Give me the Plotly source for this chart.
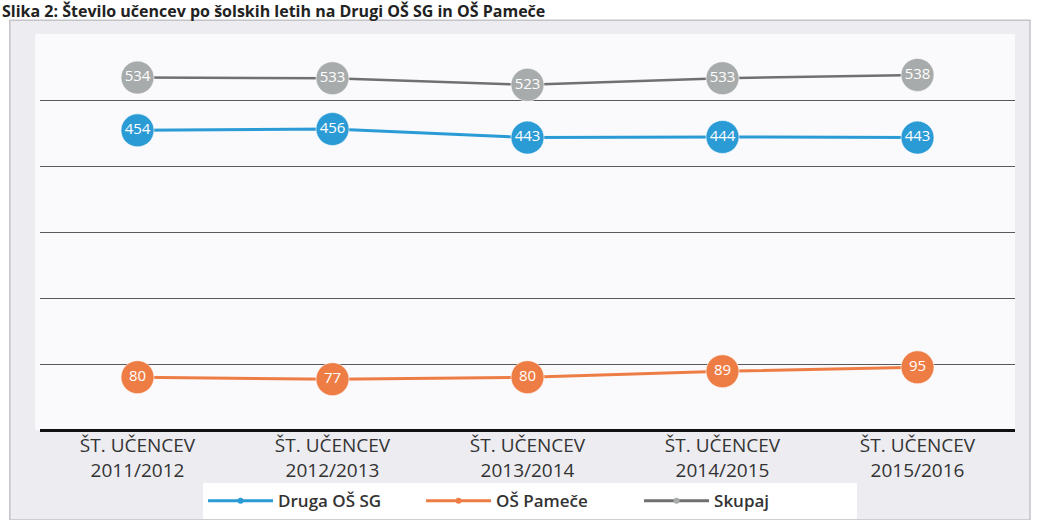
import plotly.graph_objects as go

categories = ["ŠT. UČENCEV<br>2011/2012", "ŠT. UČENCEV<br>2012/2013", "ŠT. UČENCEV<br>2013/2014",
              "ŠT. UČENCEV<br>2014/2015", "ŠT. UČENCEV<br>2015/2016"]
druga = [454, 456, 443, 444, 443]
pamece = [80, 77, 80, 89, 95]
skupaj = [534, 533, 523, 533, 538]
names = ["Druga OŠ SG", "OŠ Pameče", "Skupaj"]
title_text = "Slika 2: Število učencev po šolskih letih na Drugi OŠ SG in OŠ Pameče"

fig = go.Figure()
series = [(druga, names[0], "#2b9bd6", "#2b9bd6", 3),
          (pamece, names[1], "#ee7d45", "#ee7d45", 3),
          (skupaj, names[2], "#707070", "#a8abab", 2.5)]
for vals, name, lc, mc, lw in series:
    fig.add_trace(go.Scatter(
        x=categories, y=vals, name=name, mode="lines+markers+text", showlegend=False,
        text=[str(v) for v in vals], textposition="middle center",
        textfont=dict(color="white", size=15, family="Open Sans"),
        line=dict(color=lc, width=lw),
        marker=dict(color=mc, size=33, line=dict(color="rgba(255,255,255,0.6)", width=1)),
    ))
for vals, name, lc, mc, lw in series:
    fig.add_trace(go.Scatter(
        x=[None], y=[None], name=name, mode="lines+markers",
        line=dict(color=lc, width=3), marker=dict(color=mc, size=6),
    ))

fig.add_shape(type="rect", xref="paper", yref="paper", x0=-0.031, x1=1.0154, y0=-0.227, y1=1.035,
              fillcolor="#ececf1", line=dict(color="#c4c4c8", width=1.5), layer="below")
fig.add_shape(type="rect", xref="paper", yref="paper", x0=-0.005, x1=1.0, y0=0, y1=1.0,
              fillcolor="#fafafc", line=dict(width=0), layer="below")

fig.add_annotation(text="<b>" + title_text + "</b>", xref="paper", yref="paper",
                   x=-0.041, y=1.057, xanchor="left", yanchor="middle", showarrow=False,
                   font=dict(size=16, color="#222222", family="Open Sans"))

fig.update_layout(
    width=1038, height=520,
    margin=dict(l=40, r=23, t=34, b=90, autoexpand=False),
    paper_bgcolor="white", plot_bgcolor="rgba(0,0,0,0)",
    font=dict(family="Open Sans", color="#333333"),
    showlegend=True,
    legend=dict(orientation="h", x=0.5026, y=-0.18, xanchor="center", yanchor="middle",
                bgcolor="white", font=dict(size=17, color="#333333", weight=600), itemwidth=65,
                entrywidth=138, entrywidthmode="pixels"),
    xaxis=dict(type="category", range=[-0.5, 4.5], showgrid=False, ticks="",
               tickfont=dict(size=19, color="#333333"), showline=False, zeroline=False,
               ticklabelstandoff=2, automargin=False),
    yaxis=dict(range=[0, 600], tickvals=[0, 100, 200, 300, 400, 500], showticklabels=False,
               gridcolor="#5a5a5a", gridwidth=1.3, zeroline=True, zerolinecolor="#111111",
               zerolinewidth=3, showline=False, automargin=False),
)

fig.write_html("out.html", config={"displayModeBar": False},
               post_script="document.body.style.margin='0px';")
